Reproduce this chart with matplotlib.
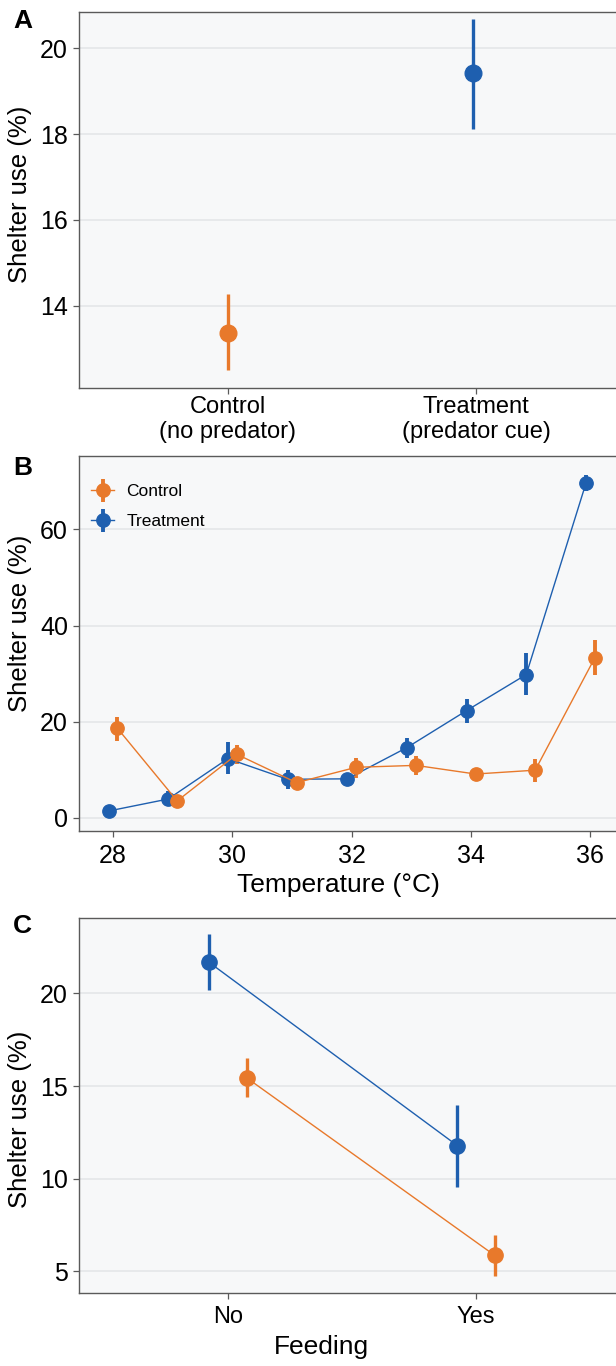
import numpy as np
import matplotlib
matplotlib.use('Agg')
import matplotlib.pyplot as plt
from matplotlib.legend_handler import HandlerErrorbar

plt.rcParams['font.family'] = ['Liberation Sans', 'DejaVu Sans']

# Panel A - predator cue
cond_labels = ['Control\n(no predator)', 'Treatment\n(predator cue)']
a_mean = [13.37, 19.43]
a_lo = [12.50, 18.12]
a_hi = [14.27, 20.68]

# Panel B - temperature
temps = [28, 29, 30, 31, 32, 33, 34, 35, 36]
b_treat = [1.4, 3.9, 12.3, 8.0, 8.1, 14.6, 22.3, 29.8, 69.6]
b_treat_lo = [1.0, 2.5, 9.1, 5.9, 7.3, 12.5, 19.8, 25.5, 68.0]
b_treat_hi = [1.8, 5.5, 15.7, 9.9, 8.9, 16.6, 24.7, 34.3, 71.4]
b_ctrl = [18.6, 3.5, 13.2, 7.3, 10.5, 10.9, 9.1, 9.9, 33.3]
b_ctrl_lo = [15.9, 2.6, 11.1, 6.1, 8.3, 8.8, 8.5, 7.5, 29.7]
b_ctrl_hi = [21.0, 4.4, 15.1, 8.3, 12.5, 12.8, 9.7, 12.2, 36.9]

# Panel C - feeding
feed_labels = ['No', 'Yes']
c_treat = [21.67, 11.78]
c_treat_lo = [20.18, 9.55]
c_treat_hi = [23.19, 14.00]
c_ctrl = [15.45, 5.86]
c_ctrl_lo = [14.39, 4.75]
c_ctrl_hi = [16.50, 6.98]

ORANGE = '#E8792B'
BLUE = '#1E5FAF'
BG = '#F7F8F9'
GRID = '#E3E5E8'
SPINE = '#5a5a5a'


def yerr(mean, lo, hi):
    mean = np.array(mean)
    return [mean - np.array(lo), np.array(hi) - mean]


def style(ax, xpad, xsize=17):
    ax.set_facecolor(BG)
    ax.grid(axis='y', color=GRID, lw=1.1)
    ax.set_axisbelow(True)
    for s in ax.spines.values():
        s.set_color(SPINE)
        s.set_linewidth(1.0)
    ax.tick_params(axis='y', length=4, width=0.9, color=SPINE, pad=4, labelsize=18)
    ax.tick_params(axis='x', length=4, width=0.9, color=SPINE, pad=xpad, labelsize=xsize)


fig = plt.figure(figsize=(6.16, 13.66), dpi=100)
L, W, H = 0.12825, 0.88636, 0.2745

# ---- A
axA = fig.add_axes([L, 0.71596, W, 0.27526])
style(axA, 1.5)
xa = np.arange(len(cond_labels))
for i, c in enumerate([ORANGE, BLUE]):
    axA.errorbar(xa[i] - 0.012 * i, a_mean[i], yerr=[[a_mean[i] - a_lo[i]], [a_hi[i] - a_mean[i]]],
                 fmt='o', color=c, ms=12, elinewidth=2.4, capsize=0)
axA.set_xticks(xa)
axA.set_xticklabels(cond_labels)
axA.set_xlim(-0.6, 1.6)
axA.set_ylim(12.09, 20.84)
axA.set_yticks([14, 16, 18, 20])
axA.set_ylabel('Shelter use (%)', fontsize=18.5, va='center')
axA.yaxis.set_label_coords(-0.108, 0.516)

# ---- B
axB = fig.add_axes([L, 0.39165, W, H])
style(axB, 5, 18)
t = np.array(temps)
axB.errorbar(t - 0.075, b_treat, yerr=yerr(b_treat, b_treat_lo, b_treat_hi), fmt='-o',
             color=BLUE, lw=1.0, ms=9.6, elinewidth=2.8, capsize=0, label='Treatment')
axB.errorbar(t + 0.075, b_ctrl, yerr=yerr(b_ctrl, b_ctrl_lo, b_ctrl_hi), fmt='-o',
             color=ORANGE, lw=1.0, ms=9.6, elinewidth=2.8, capsize=0, label='Control')
axB.set_xlim(27.43, 36.58)
axB.set_ylim(-2.76, 75.28)
axB.set_xticks([28, 30, 32, 34, 36])
axB.set_yticks([0, 20, 40, 60])
axB.set_xlabel('Temperature (°C)', fontsize=19)
axB.xaxis.set_label_coords(0.475, -0.112)
axB.set_ylabel('Shelter use (%)', fontsize=18.5, va='center')
axB.yaxis.set_label_coords(-0.108, 0.555)
h, lab = axB.get_legend_handles_labels()
leg = axB.legend(h[::-1], lab[::-1], loc='upper left', bbox_to_anchor=(0.022, 0.925),
                 frameon=False, fontsize=12.5, handlelength=1.35, handletextpad=0.7,
                 labelspacing=0.85, borderpad=0, borderaxespad=0,
                 handler_map={type(h[0]): HandlerErrorbar(xerr_size=0.5, yerr_size=0.66)})
for ln in leg.get_lines():
    ln.set_linewidth(2.2)

# ---- C
axC = fig.add_axes([L, 0.05344, W, H])
style(axC, 5)
xc = np.arange(len(feed_labels))
axC.errorbar(xc - 0.075, c_treat, yerr=yerr(c_treat, c_treat_lo, c_treat_hi), fmt='-o',
             color=BLUE, lw=1.0, ms=11, elinewidth=2.4, capsize=0)
axC.errorbar(xc + 0.075, c_ctrl, yerr=yerr(c_ctrl, c_ctrl_lo, c_ctrl_hi), fmt='-o',
             color=ORANGE, lw=1.0, ms=11, elinewidth=2.4, capsize=0)
axC.set_xticks(xc)
axC.set_xticklabels(feed_labels)
axC.set_xlim(-0.6, 1.6)
axC.set_ylim(3.83, 24.07)
axC.set_yticks([5, 10, 15, 20])
axC.set_xlabel('Feeding', fontsize=19)
axC.xaxis.set_label_coords(0.444, -0.112)
axC.set_ylabel('Shelter use (%)', fontsize=18.5, va='center')
axC.yaxis.set_label_coords(-0.108, 0.464)

for txt, ytop in [('A', 9), ('B', 456), ('C', 914)]:
    fig.text(13 / 616, 1 - ytop / 1366, txt, fontsize=19, fontweight='bold', va='top', ha='left')

fig.savefig('out.png', dpi=100)
